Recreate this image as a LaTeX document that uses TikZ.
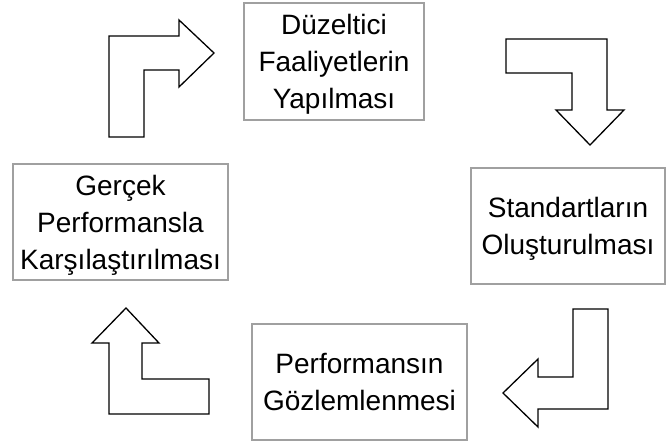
\documentclass[tikz,border=0pt]{standalone}
\usepackage{fontspec}
\setmainfont{Liberation Sans}
\usepackage{tikz}
\definecolor{boxgray}{RGB}{160,160,160}

\begin{document}
\begin{tikzpicture}[x=1pt,y=-1pt,box/.style={draw=boxgray,line width=1.6pt,align=center,inner sep=0pt,text depth=0pt,font={\fontsize{28}{37}\selectfont}},blockarrow/.style={draw=black,line width=1.3pt,line join=miter}]
\useasboundingbox (0,0) rectangle (669,445);
\node[box,minimum width=180pt,minimum height=117pt] (fix) at (334,61.5) {Düzeltici\\Faaliyetlerin\\Yapılması};
\node[box,minimum width=194pt,minimum height=116pt] (std) at (568,226) {Standartların\\Oluşturulması};
\node[box,minimum width=215pt,minimum height=116pt] (obs) at (359.5,382) {Performansın\\Gözlemlenmesi};
\node[box,minimum width=215pt,minimum height=116pt] (cmp) at (120.5,222) {Gerçek\\Performansla\\Karşılaştırılması};
% block arrows between the boxes
\draw[blockarrow] (109,137) -- (109,36) -- (179,36) -- (179,20) -- (214,53) -- (179,87) -- (179,70) -- (144,70) -- (144,137) -- cycle;
\draw[blockarrow] (506,39) -- (607,39) -- (607,110) -- (624,110) -- (590,145) -- (556,110) -- (572,110) -- (572,73) -- (506,73) -- cycle;
\draw[blockarrow] (608,309) -- (608,409) -- (538,409) -- (538,427) -- (503,393) -- (538,359) -- (538,377) -- (573,377) -- (573,309) -- cycle;
\draw[blockarrow] (209,414) -- (109,414) -- (109,343) -- (92,343) -- (126,308) -- (159,343) -- (142,343) -- (142,379) -- (209,379) -- cycle;
\end{tikzpicture}
\end{document}
